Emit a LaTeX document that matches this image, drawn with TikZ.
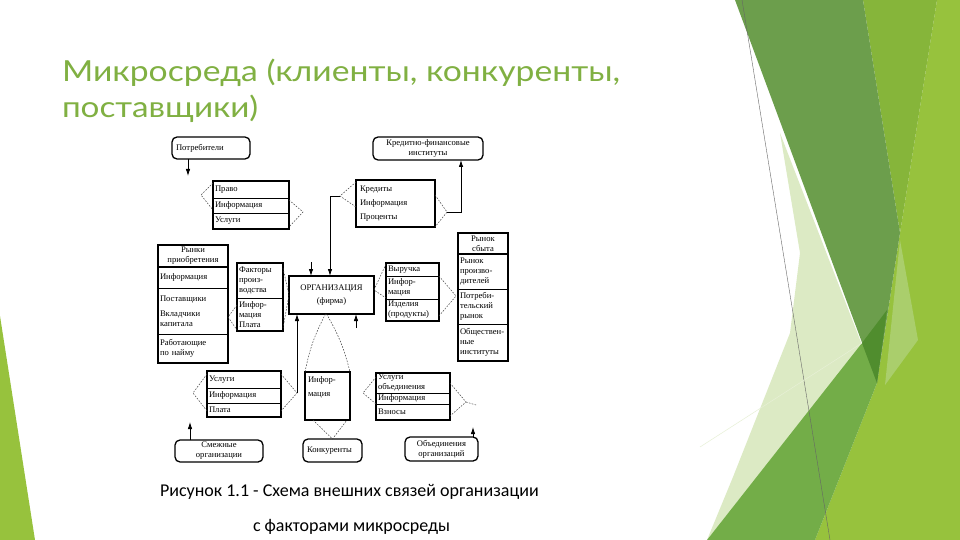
\documentclass[tikz,border=0pt]{standalone}
\usepackage{fontspec}
\usepackage{graphicx}
\setmainfont{Liberation Serif}
\newfontfamily\titlefont{Lato}
\newfontfamily\capfont{Carlito}
\usetikzlibrary{arrows.meta}
\definecolor{ttl}{RGB}{128,176,66}
\definecolor{lime}{RGB}{151,194,61}
\definecolor{ygreen}{RGB}{134,181,58}
\definecolor{dband}{RGB}{108,158,76}
\definecolor{mgreen}{RGB}{115,173,72}
\definecolor{pale}{RGB}{220,234,196}
\definecolor{dgreen}{RGB}{80,141,46}
\definecolor{lwedge}{RGB}{170,206,108}
\newcommand\rcell[7]{\node[cell, minimum width=#4pt, minimum height=#5pt, text width=#6pt] (#1) at (#2,#3) {#7};}
\newcommand\ccell[7]{\node[cell, align=center, minimum width=#4pt, minimum height=#5pt, text width=#6pt] (#1) at (#2,#3) {#7};}
\begin{document}
\begin{tikzpicture}[x=1pt,y=-1pt,
  every node/.style={font=\fontsize{8.6}{10}\selectfont, inner sep=0pt, outer sep=0pt},
  cell/.style={draw, line width=0.6pt, anchor=north west, inner xsep=2pt, inner ysep=0pt, align=left},
  frame/.style={draw, line width=1.3pt, anchor=north west},
  rbox/.style={draw, line width=1.3pt, rounded corners=5pt, anchor=north west, inner xsep=4pt},
  br/.style={draw=black!75, line width=0.5pt, dash pattern=on 1.6pt off 1.4pt},
  ln/.style={line width=0.8pt},
  tip/.style={ln, -{Latex[length=7pt,width=4.5pt]}}]
\useasboundingbox (0,0) rectangle (960,540);
\fill[white] (0,0) rectangle (960,540);
% decorations
\fill[lime] (0,316) -- (35,540) -- (0,540) -- cycle;
\fill[lime] (937,0) -- (960,0) -- (960,540) -- (815,540) -- (877,383) -- (900,233) -- cycle;
\fill[ygreen] (863,0) -- (937,0) -- (900,233) -- cycle;
\fill[lwedge] (900,240) -- (918,340) -- (885,385) -- cycle;
\fill[pale] (780,133) -- (862,345) -- (707,540) -- (733,477) -- (790,333) -- (800,253) -- cycle;
\fill[mgreen] (707,540) -- (862,343) -- (887,310) -- (877,383) -- (815,540) -- cycle;
\fill[dband] (735,0) -- (863,0) -- (900,233) -- (877,383) -- cycle;
\fill[dgreen] (862,343) -- (887,310) -- (877,383) -- cycle;
\draw[black!60, line width=0.4pt] (742,0) -- (830,540);
\draw[pale!70!white, line width=0.5pt] (700,447) -- (862,343);
% title
\node[anchor=base west, text=ttl, font=\titlefont\fontsize{29}{29}\selectfont] (title1) at (62,82) {\resizebox{558pt}{\height}{Микросреда (клиенты, конкуренты,}};
\node[anchor=base west, text=ttl, font=\titlefont\fontsize{29}{29}\selectfont] (title2) at (62,118) {\resizebox{196pt}{\height}{поставщики)}};
% caption
\node[anchor=base west, font=\capfont\fontsize{18}{18}\selectfont] (cap1) at (160,496) {Рисунок 1.1 - Схема внешних связей организации};
\node[anchor=base west, font=\capfont\fontsize{18}{18}\selectfont] (cap2) at (253,531) {с факторами микросреды};
% rounded boxes
\node[rbox, minimum width=78pt, minimum height=22pt, text width=70pt, align=left] (Potreb) at (172,137) {Потребители};
\node[rbox, minimum width=110pt, minimum height=23pt, text width=102pt, align=center] (Kredit) at (373,137) {Кредитно-финансовые\\институты};
\node[rbox, minimum width=88pt, minimum height=22pt, text width=80pt, align=center] (S) at (175,440) {Смежные\\организации};
\node[rbox, minimum width=59pt, minimum height=23pt, text width=51pt, align=left] (K2) at (303,439) {Конкуренты};
\node[rbox, minimum width=73pt, minimum height=24pt, text width=65pt, align=center] (U) at (405,437) {Объединения\\организаций};
% box P
\rcell{p1}{213}{181}{76}{17}{72}{Право}
\rcell{p2}{213}{198}{76}{15}{72}{Информация}
\rcell{p3}{213}{213}{76}{16}{72}{Услуги}
\node[frame, minimum width=76pt, minimum height=48pt] (P) at (213,181) {};
% box K
\node[frame, minimum width=79pt, minimum height=47pt, text width=71pt, inner xsep=4pt, align=left] (K) at (356,180) {Кредиты\\[4pt]Информация\\[4pt]Проценты};
% box L
\ccell{l1}{158}{245}{70}{22}{66}{Рынки\\приобретения}
\rcell{l2}{158}{267}{70}{21}{66}{Информация}
\rcell{l3}{158}{288}{70}{46}{66}{Поставщики\\[5pt]Вкладчики\\капитала}
\rcell{l4}{158}{334}{70}{29}{66}{Работающие\\по найму}
\draw[line width=1.2pt] (l1.south west) -- (l1.south east);
\node[frame, minimum width=70pt, minimum height=118pt] (L) at (158,245) {};
% box F
\rcell{f1}{237}{263}{46}{35}{42}{Факторы\\произ-\\водства}
\rcell{f2}{237}{298}{46}{33}{42}{Инфор-\\мация\\Плата}
\node[frame, minimum width=46pt, minimum height=68pt] (F) at (237,263) {};
% center
\node[frame, minimum width=85pt, minimum height=38pt, align=center] (O) at (289,276) {ОРГАНИЗАЦИЯ\\[3pt](фирма)};
% box R
\rcell{r1}{386}{263}{53}{13}{49}{Выручка}
\rcell{r2}{386}{276}{53}{23}{49}{Инфор-\\мация}
\rcell{r3}{386}{299}{53}{22}{49}{Изделия\\(продукты)}
\node[frame, minimum width=53pt, minimum height=58pt] (R) at (386,263) {};
% box T
\ccell{t1}{458}{233}{50}{21}{46}{Рынок\\сбыта}
\rcell{t2}{458}{254}{50}{35}{46}{Рынок\\произво-\\дителей}
\rcell{t3}{458}{289}{50}{35}{46}{Потреби-\\тельский\\рынок}
\rcell{t4}{458}{324}{50}{37}{46}{Обществен-\\ные\\институты}
\draw[line width=1.2pt] (t1.south west) -- (t1.south east);
\node[frame, minimum width=50pt, minimum height=128pt] (T) at (458,233) {};
% box B1
\rcell{b1}{207}{371}{74}{17}{70}{Услуги}
\rcell{b2}{207}{388}{74}{15}{70}{Информация}
\rcell{b3}{207}{403}{74}{14}{70}{Плата}
\node[frame, minimum width=74pt, minimum height=46pt] (B1) at (207,371) {};
% box I
\node[frame, minimum width=45pt, minimum height=48pt] (I) at (305,372) {};
\node[anchor=north west, align=left] (Itxt) at (308,377) {Инфор-\\[4pt]мация};
% box B3
\rcell{c1}{376}{373}{74}{20}{70}{Услуги\\объединения}
\rcell{c2}{376}{393}{74}{11}{70}{Информация}
\rcell{c3}{376}{404}{74}{16}{70}{Взносы}
\node[frame, minimum width=74pt, minimum height=47pt] (B3) at (376,373) {};
% coordinates
\coordinate (pl) at (201,195);
\coordinate (pr) at (303,212);
\coordinate (kl) at (340,196);
\coordinate (kl2) at (330,196);
\coordinate (kr) at (447,212);
\coordinate (kup) at (461,212);
\coordinate (lf) at (228,317);
\coordinate (rt) at (456,296);
\coordinate (b1l) at (193,393);
\coordinate (b1r) at (297,393);
\coordinate (b3l) at (363,393);
\coordinate (b3r) at (466,402);
\coordinate (b3t) at (476,405);
\coordinate (st1) at (311,262);
\coordinate (st2) at (356,328);
\coordinate (sp) at (188,176);
\coordinate (ss) at (190,422);
\coordinate (su) at (473,427);
% dashed brackets
\draw[br] ([yshift=-2pt]P.north west) -- (pl) -- ([yshift=-29pt]P.north west);
\draw[br] ([yshift=-19pt]P.north east) -- (pr) -- ([yshift=2pt]P.south east);
\draw[br] ([yshift=-2pt]K.north west) -- (kl) -- ([yshift=-27pt]K.north west);
\draw[br] ([yshift=-15pt]K.north east) -- (kr) -- (K.south east);
\draw[br] ([yshift=-42pt]F.north west) -- (lf) -- ([yshift=1pt]F.south west);
\draw[br] ([yshift=-5pt]F.north east) -- (O.west) -- ([yshift=3pt]F.south east);
\draw[br] ([yshift=-1pt]R.north west) -- ([yshift=5pt]O.east) -- ([yshift=-35pt]R.north west);
\draw[br] ([yshift=-13pt]R.north east) -- (rt) -- ([yshift=5pt]R.south east);
\draw[br] ([yshift=-3pt]B1.north west) -- (b1l) -- ([yshift=6pt]B1.south west);
\draw[br] ([yshift=-3pt]B1.north east) -- (b1r) -- ([yshift=6pt]B1.south east);
\draw[br] ([xshift=-6pt]O.south) to[bend right=8] (I.north west);
\draw[br] ([xshift=-5pt]O.south) to[bend left=8] (I.north east);
\draw[br] ([xshift=8pt]I.south west) -- (K2.north) -- ([xshift=-3pt]I.south east);
\draw[br] ([yshift=-4pt]B3.north west) -- (b3l) -- ([yshift=-31pt]B3.north west);
\draw[br] ([yshift=-10pt]B3.north east) -- (b3r) -- ([yshift=4pt]B3.south east);
\draw[br] (b3r) -- (b3t);
% solid connectors
\draw[tip] (kr) -- (kup) -- (kup |- Kredit.south);
\draw[tip] (kl) -- (kl2) -- (kl2 |- O.north);
\draw[tip] (st1) -- (st1 |- O.north);
\draw[tip] (st2) -- (st2 |- O.south);
\draw[tip] (b1r) -- (b1r |- O.south);
\draw[tip] (sp |- Potreb.south) -- (sp);
\draw[tip] (ss |- S.north) -- (ss);
\draw[tip] (su |- U.north) -- (su);
\end{tikzpicture}
\end{document}
